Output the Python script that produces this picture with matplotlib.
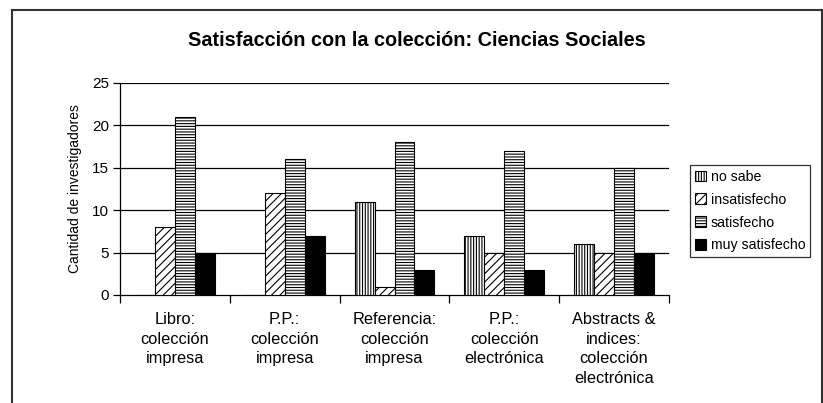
import matplotlib
matplotlib.use("Agg")
import matplotlib.pyplot as plt
import numpy as np
from matplotlib.lines import Line2D

categories = ["Libro:\ncolección\nimpresa", "P.P.:\ncolección\nimpresa",
              "Referencia:\ncolección\nimpresa", "P.P.:\ncolección\nelectrónica",
              "Abstracts &\nindices:\ncolección\nelectrónica"]
series_names = ["no sabe", "insatisfecho", "satisfecho", "muy satisfecho"]
no_sabe = [0, 0, 11, 7, 6]
insatisfecho = [8, 12, 1, 5, 5]
satisfecho = [21, 16, 18, 17, 15]
muy_satisfecho = [5, 7, 3, 3, 5]
yticks = [0, 5, 10, 15, 20, 25]

plt.rcParams['font.family'] = ['Liberation Sans', 'DejaVu Sans']
plt.rcParams['hatch.linewidth'] = 0.8

fig = plt.figure(figsize=(8.23, 4.03), dpi=100)
ax = fig.add_axes([120/823, 1-295/403, (669-120)/823, (295-83)/403])

series = [no_sabe, insatisfecho, satisfecho, muy_satisfecho]
hatches = ['||||||', '////', '------', None]
faces = ['white', 'white', 'white', 'black']
x = np.arange(len(categories)) + 0.5
w = 20/110
for i, (vals, h, fc, name) in enumerate(zip(series, hatches, faces, series_names)):
    ax.bar(x + (i - 1.5) * w, vals, width=w, facecolor=fc, edgecolor='black',
           hatch=h, linewidth=0.8, label=name, zorder=3)

ax.set_xlim(0, len(categories))
ax.set_ylim(0, 25)
ax.set_yticks(yticks)
for t in yticks[1:]:
    ax.axhline(t, color='black', linewidth=0.9, zorder=1)
ax.set_xticks(np.arange(len(categories) + 1))
ax.set_xticklabels([])
ax.tick_params(axis='x', direction='out', length=6, width=0.9)
ax.tick_params(axis='y', direction='out', length=5, width=0.9, labelsize=11, pad=3)
for s in ['top', 'right']:
    ax.spines[s].set_visible(False)
for s in ['left', 'bottom']:
    ax.spines[s].set_linewidth(0.9)
for xi, lab in zip(x, categories):
    ax.text(xi, -2.0, lab, ha='center', va='top', fontsize=11.8, linespacing=1.38)

ax.set_ylabel("Cantidad de investigadores", fontsize=10, labelpad=7)
fig.text(417/823, 1-41/403, "Satisfacción con la colección: Ciencias Sociales",
         ha='center', va='center', fontsize=14.3, fontweight='bold')

leg = ax.legend(loc='upper left', bbox_to_anchor=(690/823, 1-165/403),
                bbox_transform=fig.transFigure, frameon=True, fancybox=False,
                edgecolor='black', fontsize=10.2, handlelength=0.8, handleheight=0.8,
                handletextpad=0.3, borderpad=0.35, labelspacing=0.62, borderaxespad=0)
leg.get_frame().set_linewidth(0.9)

# outer chart frame
lc = '#333333'
fig.add_artist(Line2D([12/823, 12/823], [0, 1-10/403], transform=fig.transFigure, color=lc, lw=1.5))
fig.add_artist(Line2D([12/823, 822/823], [1-10/403, 1-10/403], transform=fig.transFigure, color=lc, lw=1.5))
fig.add_artist(Line2D([822/823, 822/823], [0, 1-10/403], transform=fig.transFigure, color=lc, lw=1.5))

fig.savefig("out.png", dpi=100)
